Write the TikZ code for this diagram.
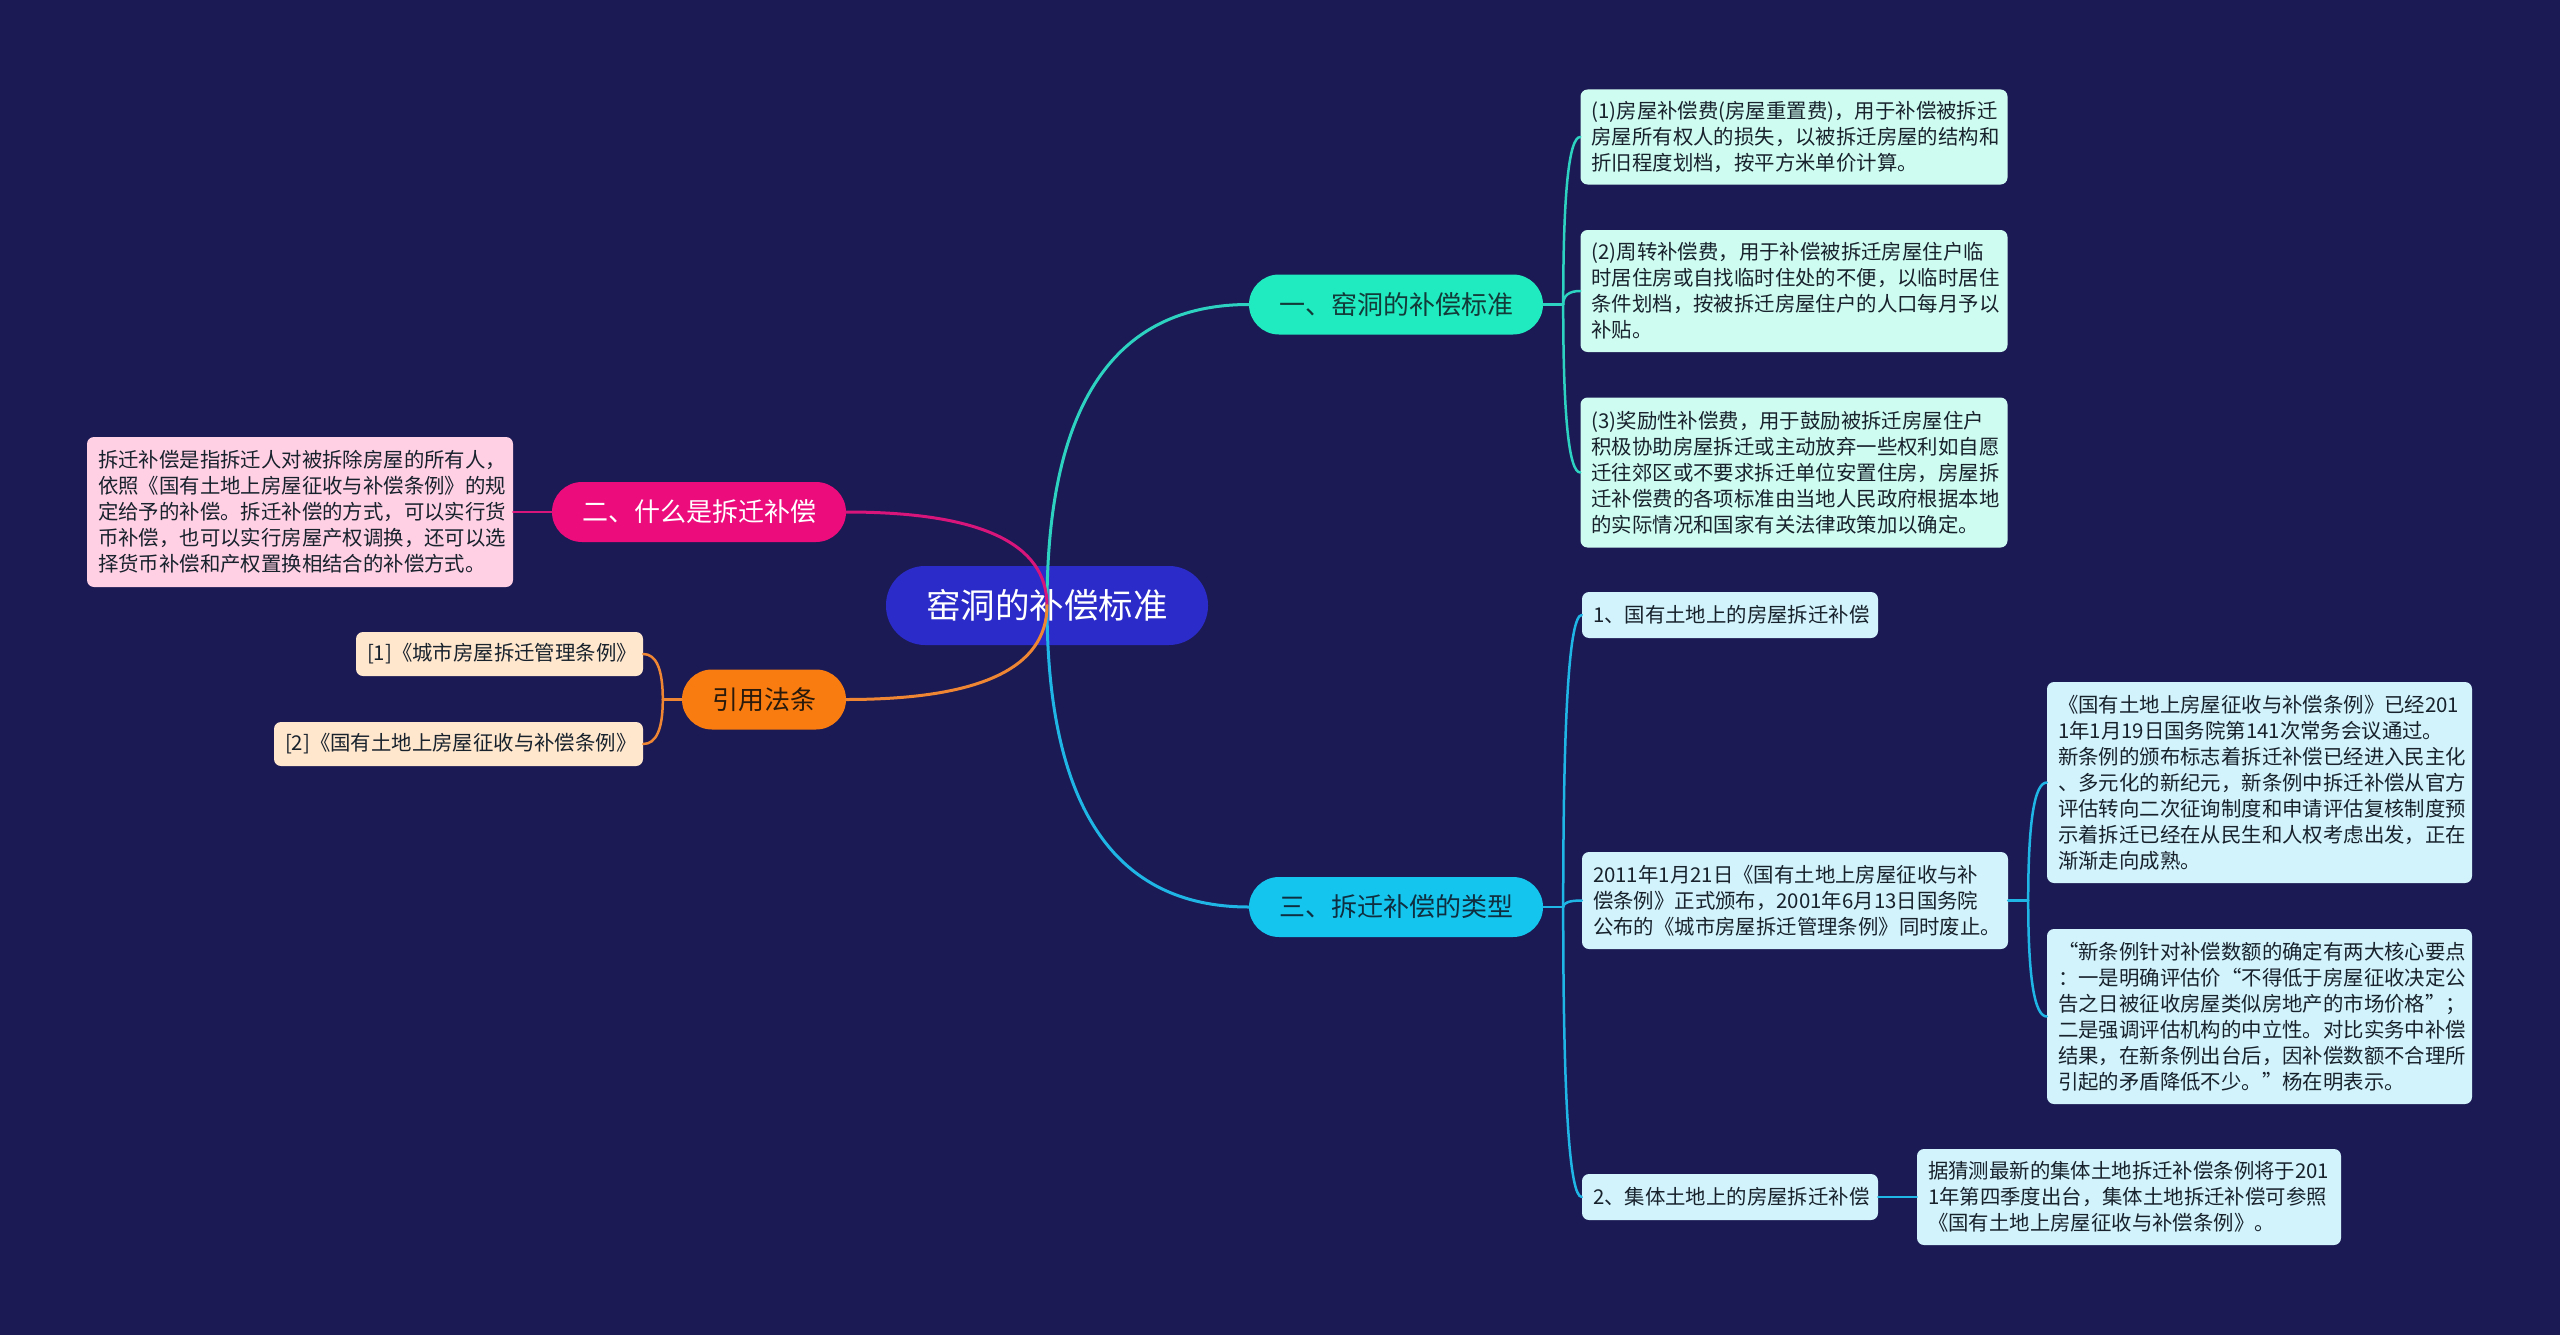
\documentclass[tikz,border=0pt]{standalone}
\usepackage{fontspec}
\newfontfamily\cjk{Noto Sans CJK SC}
\usetikzlibrary{calc}
\definecolor{bg}{HTML}{1B1A54}
\definecolor{rootc}{HTML}{2B2BC9}
\definecolor{bonec}{HTML}{20EBC0}
\definecolor{bonet}{HTML}{123A38}
\definecolor{bonel}{HTML}{2DD3C0}
\definecolor{btwoc}{HTML}{EC0C7C}
\definecolor{btwol}{HTML}{D8157B}
\definecolor{bthrc}{HTML}{14C6EE}
\definecolor{bthrt}{HTML}{0F2E40}
\definecolor{bthrl}{HTML}{1FB6E6}
\definecolor{bforc}{HTML}{F97C10}
\definecolor{bfort}{HTML}{2A1A0C}
\definecolor{bforl}{HTML}{EE8634}
\definecolor{mint}{HTML}{CFFCF0}
\definecolor{cyanl}{HTML}{D2F3FB}
\definecolor{pinkl}{HTML}{FFD0E4}
\definecolor{peach}{HTML}{FFE7CE}
\definecolor{leaftext}{HTML}{18222D}
\newcommand{\qlink}[3]{%
  \coordinate (qk) at (#2 |- #3);
  \draw[conn,#1] (#2) .. controls ($(#2)!0.6667!(qk)$) and ($(#3)!0.6667!(qk)$) .. (#3);}
\begin{document}
\begin{tikzpicture}[x=1pt,y=-1pt,
  rootbox/.style={fill=rootc, text=white, rounded corners=39pt, minimum width=322pt, minimum height=79pt, inner sep=0pt, font=\cjk\fontsize{34.5}{40}\selectfont},
  pill/.style={rounded corners=30pt, minimum height=60pt, inner sep=0pt, font=\cjk\fontsize{26}{30}\selectfont},
  leafbox/.style={rounded corners=7pt, inner xsep=11pt, inner ysep=3pt, align=left, font=\cjk\fontsize{20.4}{26}\selectfont, text=leaftext},
  conn/.style={line width=2.5pt, line cap=round}]
\fill[bg] (0,0) rectangle (2560,1335);
\useasboundingbox (0,0) rectangle (2560,1335);

% root and main branches
\node[rootbox] (root) at (1047,605.5) {窑洞的补偿标准};
\node[pill, fill=bonec, text=bonet, minimum width=294pt] (b1) at (1396,304.5) {一、窑洞的补偿标准};
\node[pill, fill=btwoc, text=white, minimum width=294pt] (b2) at (699,512) {二、什么是拆迁补偿};
\node[pill, fill=bforc, text=bfort, minimum width=164pt] (b4) at (764,699.5) {引用法条};
\node[pill, fill=bthrc, text=bthrt, minimum width=294pt] (b3) at (1396,907) {三、拆迁补偿的类型};

% branch 1 leaves
\node[leafbox, fill=mint, text width=405pt, minimum height=95pt] (l1) at (1794,137) {(1)房屋补偿费(房屋重置费)，用于补偿被拆迁\\房屋所有权人的损失，以被拆迁房屋的结构和\\折旧程度划档，按平方米单价计算。};
\node[leafbox, fill=mint, text width=405pt, minimum height=122pt] (l2) at (1794,291) {(2)周转补偿费，用于补偿被拆迁房屋住户临\\时居住房或自找临时住处的不便，以临时居住\\条件划档，按被拆迁房屋住户的人口每月予以\\补贴。};
\node[leafbox, fill=mint, text width=405pt, minimum height=150pt] (l3) at (1794,472.5) {(3)奖励性补偿费，用于鼓励被拆迁房屋住户\\积极协助房屋拆迁或主动放弃一些权利如自愿\\迁往郊区或不要求拆迁单位安置住房，房屋拆\\迁补偿费的各项标准由当地人民政府根据本地\\的实际情况和国家有关法律政策加以确定。};

% branch 3 children
\node[leafbox, fill=cyanl, text width=274pt, minimum height=46pt] (l4) at (1730,615) {1、国有土地上的房屋拆迁补偿};
\node[leafbox, fill=cyanl, text width=404pt, minimum height=97pt] (l5) at (1795,900.5) {2011年1月21日《国有土地上房屋征收与补\\偿条例》正式颁布，2001年6月13日国务院\\公布的《城市房屋拆迁管理条例》同时废止。};
\node[leafbox, fill=cyanl, text width=274pt, minimum height=46pt] (l6) at (1730,1197) {2、集体土地上的房屋拆迁补偿};
\node[leafbox, fill=cyanl, text width=403pt, minimum height=201pt] (g1) at (2259.5,782.5) {《国有土地上房屋征收与补偿条例》已经201\\1年1月19日国务院第141次常务会议通过。\\新条例的颁布标志着拆迁补偿已经进入民主化\\、多元化的新纪元，新条例中拆迁补偿从官方\\评估转向二次征询制度和申请评估复核制度预\\示着拆迁已经在从民生和人权考虑出发，正在\\渐渐走向成熟。};
\node[leafbox, fill=cyanl, text width=403pt, minimum height=175pt] (g2) at (2259.5,1016.5) {“新条例针对补偿数额的确定有两大核心要点\\：一是明确评估价“不得低于房屋征收决定公\\告之日被征收房屋类似房地产的市场价格”；\\二是强调评估机构的中立性。对比实务中补偿\\结果，在新条例出台后，因补偿数额不合理所\\引起的矛盾降低不少。”杨在明表示。};
\node[leafbox, fill=cyanl, text width=402pt, minimum height=96pt] (g3) at (2129,1197) {据猜测最新的集体土地拆迁补偿条例将于201\\1年第四季度出台，集体土地拆迁补偿可参照\\《国有土地上房屋征收与补偿条例》。};

% left side
\node[leafbox, fill=pinkl, text width=404pt, minimum height=150pt] (pk) at (300,512) {拆迁补偿是指拆迁人对被拆除房屋的所有人，\\依照《国有土地上房屋征收与补偿条例》的规\\定给予的补偿。拆迁补偿的方式，可以实行货\\币补偿，也可以实行房屋产权调换，还可以选\\择货币补偿和产权置换相结合的补偿方式。};
\node[leafbox, fill=peach, text width=265pt, minimum height=44pt] (r1) at (499.5,654) {[1]《城市房屋拆迁管理条例》};
\node[leafbox, fill=peach, text width=347pt, minimum height=44pt] (r2) at (458.5,744) {[2]《国有土地上房屋征收与补偿条例》};

% connectors from root
\begin{scope}[conn/.append style={line width=3pt}]
\qlink{bonel}{root.center}{b1.west}
\qlink{bthrl}{root.center}{b3.west}
\qlink{btwol}{root.center}{b2.east}
\qlink{bforl}{root.center}{b4.east}
\end{scope}

% branch 1 bracket
\coordinate (m1) at ($(b1.east)+(20,0)$);
\draw[conn,bonel] (b1.east) -- (m1);
\qlink{bonel}{m1}{l1.west}
\qlink{bonel}{m1}{l2.west}
\qlink{bonel}{m1}{l3.west}

% branch 3 bracket
\coordinate (m3) at ($(b3.east)+(20,0)$);
\draw[conn,bthrl] (b3.east) -- (m3);
\qlink{bthrl}{m3}{l4.west}
\qlink{bthrl}{m3}{l5.west}
\qlink{bthrl}{m3}{l6.west}

\coordinate (m5) at ($(l5.east)+(20,0)$);
\draw[conn,bthrl] (l5.east) -- (m5);
\qlink{bthrl}{m5}{g1.west}
\qlink{bthrl}{m5}{g2.west}
\draw[conn,bthrl] (l6.east) -- (g3.west);

% left brackets
\draw[conn,btwol] (b2.west) -- (pk.east);
\coordinate (m4) at ($(b4.west)+(-19,0)$);
\draw[conn,bforl] (b4.west) -- (m4);
\qlink{bforl}{m4}{r1.east}
\qlink{bforl}{m4}{r2.east}
\end{tikzpicture}
\end{document}
